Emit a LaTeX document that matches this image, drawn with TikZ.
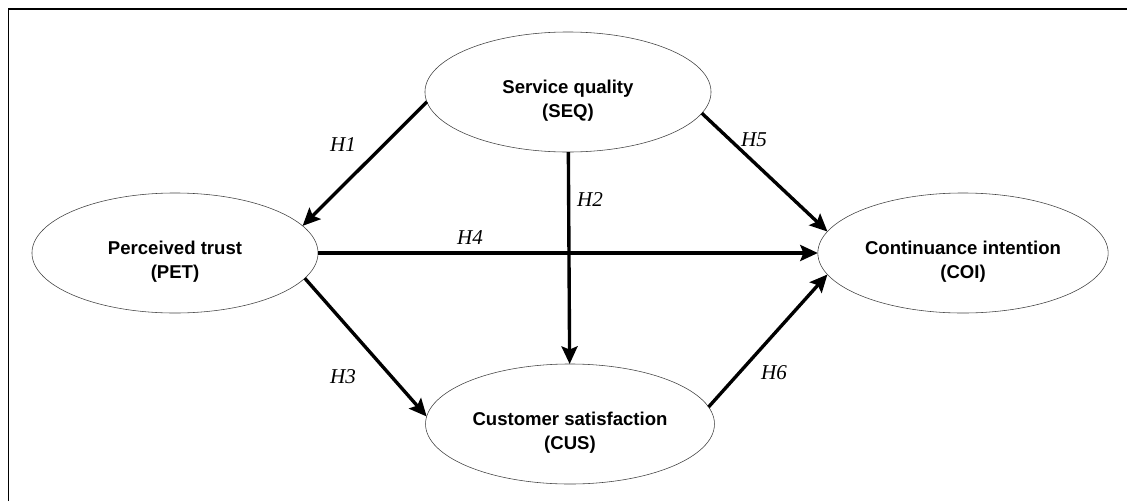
\documentclass[tikz,border=0pt]{standalone}
\usepackage{fontspec}
\setmainfont{Liberation Serif}
\setsansfont{Liberation Sans}
\usetikzlibrary{shapes.geometric,arrows.meta}

% two-line construct label, set a little below the centre
\newcommand{\constext}[2]{\rule{0pt}{21.5pt}#1\\#2}

\tikzset{
  construct/.style={ellipse,draw=black!75,line width=0.4pt,outer sep=0pt,
    minimum width=7.15cm,minimum height=3cm,align=center,
    font=\sffamily\bfseries\fontsize{13.2}{17}\selectfont},
  link/.style={line width=2.4pt,-{Stealth[length=4.4mm,width=4mm,inset=0.8mm]}},
  hyp/.style={font=\itshape\fontsize{15}{18}\selectfont}
}

\begin{document}
\begin{tikzpicture}[x=0.025cm,y=-0.025cm]
\useasboundingbox (0,0) rectangle (1127,501);
\draw[line width=0.9pt] (8.5,501) -- (8.5,9) -- (1127,9);

% constructs
\node[construct] (seq) at (568,92) {\constext{Service quality}{(SEQ)}};
\node[construct] (pet) at (175,253) {\constext{Perceived trust}{(PET)}};
\node[construct] (cus) at (570,424) {\constext{Customer satisfaction}{(CUS)}};
\node[construct] (coi) at (963,253) {\constext{Continuance intention}{(COI)}};

% hypotheses
\draw[link] (seq.184) -- (pet.12);
\draw[link] (seq) -- (cus);
\draw[link] (pet.-11) -- (cus.177);
\draw[link] (pet) -- (coi);
\draw[link] (seq.-9) -- (coi.171);
\draw[link] (cus.7) -- (coi.-171);

\node[hyp] (h1) at (343,145) {H1};
\node[hyp] (h2) at (590,200) {H2};
\node[hyp] (h3) at (343,377) {H3};
\node[hyp] (h4) at (470,238) {H4};
\node[hyp] (h5) at (754,140) {H5};
\node[hyp] (h6) at (774,373) {H6};
\end{tikzpicture}
\end{document}
